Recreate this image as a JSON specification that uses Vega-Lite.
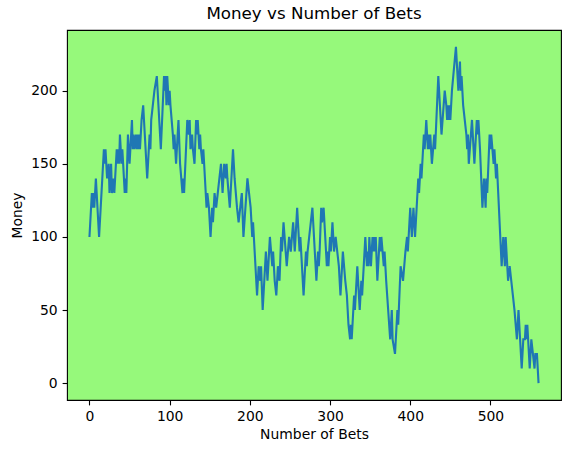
{
"$schema": "https://vega.github.io/schema/vega-lite/v6.json",
"width": 494, "height": 370,
"autosize": {"type": "none"},
"padding": {"left": 67, "top": 30, "right": 10, "bottom": 53},
"background": "white",
"title": {"text": "Money vs Number of Bets", "fontSize": 16.7, "font": "DejaVu Sans", "fontWeight": "normal", "color": "black", "offset": 7},
"config": {
  "view": {"fill": "#96f97b", "stroke": "black", "strokeWidth": 1.1},
  "axis": {"domain": false, "grid": false, "tickColor": "black", "tickSize": 4.9, "tickWidth": 1.1, "labelFont": "DejaVu Sans", "labelFontSize": 13.9, "labelColor": "black", "labelPadding": 4.9, "titleFont": "DejaVu Sans", "titleFontSize": 13.9, "titleFontWeight": "normal", "titleColor": "black"}
},
"data": {"values": [
{"bets":0,"money":100},{"bets":3,"money":130},{"bets":4,"money":120},{"bets":5,"money":130},{"bets":6,"money":120},{"bets":8,"money":140},{"bets":12,"money":100},{"bets":18,"money":160},{"bets":19,"money":150},{"bets":20,"money":160},{"bets":22,"money":140},{"bets":24,"money":150},{"bets":25,"money":130},{"bets":27,"money":150},{"bets":28,"money":130},{"bets":30,"money":140},{"bets":31,"money":130},{"bets":34,"money":160},{"bets":35,"money":150},{"bets":36,"money":160},{"bets":37,"money":150},{"bets":38,"money":170},{"bets":40,"money":150},{"bets":41,"money":160},{"bets":42,"money":150},{"bets":44,"money":130},{"bets":45,"money":140},{"bets":46,"money":130},{"bets":48,"money":170},{"bets":50,"money":150},{"bets":53,"money":180},{"bets":54,"money":160},{"bets":55,"money":170},{"bets":56,"money":160},{"bets":58,"money":170},{"bets":59,"money":160},{"bets":60,"money":170},{"bets":61,"money":160},{"bets":62,"money":170},{"bets":63,"money":160},{"bets":65,"money":180},{"bets":67,"money":190},{"bets":69,"money":170},{"bets":72,"money":140},{"bets":75,"money":170},{"bets":76,"money":160},{"bets":77,"money":180},{"bets":79,"money":190},{"bets":81,"money":200},{"bets":84,"money":210},{"bets":86,"money":190},{"bets":89,"money":160},{"bets":93,"money":210},{"bets":94,"money":200},{"bets":95,"money":210},{"bets":96,"money":190},{"bets":97,"money":210},{"bets":98,"money":200},{"bets":99,"money":190},{"bets":100,"money":200},{"bets":101,"money":190},{"bets":104,"money":170},{"bets":105,"money":160},{"bets":106,"money":170},{"bets":108,"money":150},{"bets":110,"money":170},{"bets":111,"money":180},{"bets":113,"money":150},{"bets":116,"money":130},{"bets":117,"money":140},{"bets":118,"money":130},{"bets":122,"money":180},{"bets":124,"money":170},{"bets":125,"money":180},{"bets":126,"money":160},{"bets":128,"money":170},{"bets":129,"money":160},{"bets":131,"money":150},{"bets":133,"money":180},{"bets":134,"money":170},{"bets":135,"money":180},{"bets":137,"money":160},{"bets":138,"money":170},{"bets":139,"money":160},{"bets":141,"money":150},{"bets":142,"money":160},{"bets":143,"money":150},{"bets":146,"money":120},{"bets":147,"money":130},{"bets":149,"money":120},{"bets":151,"money":100},{"bets":153,"money":120},{"bets":154,"money":110},{"bets":156,"money":130},{"bets":158,"money":120},{"bets":160,"money":130},{"bets":164,"money":150},{"bets":166,"money":130},{"bets":168,"money":150},{"bets":170,"money":140},{"bets":171,"money":150},{"bets":172,"money":140},{"bets":175,"money":120},{"bets":179,"money":160},{"bets":181,"money":140},{"bets":184,"money":120},{"bets":186,"money":110},{"bets":188,"money":120},{"bets":190,"money":130},{"bets":192,"money":100},{"bets":197,"money":140},{"bets":199,"money":130},{"bets":201,"money":120},{"bets":203,"money":100},{"bets":204,"money":110},{"bets":205,"money":100},{"bets":209,"money":60},{"bets":211,"money":80},{"bets":213,"money":70},{"bets":214,"money":80},{"bets":216,"money":50},{"bets":220,"money":90},{"bets":222,"money":70},{"bets":225,"money":100},{"bets":228,"money":80},{"bets":229,"money":90},{"bets":231,"money":70},{"bets":233,"money":60},{"bets":235,"money":80},{"bets":237,"money":70},{"bets":239,"money":100},{"bets":240,"money":90},{"bets":242,"money":110},{"bets":246,"money":80},{"bets":249,"money":100},{"bets":251,"money":90},{"bets":254,"money":110},{"bets":256,"money":90},{"bets":259,"money":120},{"bets":261,"money":100},{"bets":262,"money":90},{"bets":263,"money":100},{"bets":267,"money":60},{"bets":270,"money":90},{"bets":271,"money":80},{"bets":272,"money":90},{"bets":278,"money":120},{"bets":283,"money":70},{"bets":285,"money":90},{"bets":286,"money":80},{"bets":287,"money":90},{"bets":289,"money":120},{"bets":290,"money":110},{"bets":292,"money":120},{"bets":296,"money":80},{"bets":297,"money":90},{"bets":298,"money":80},{"bets":300,"money":100},{"bets":301,"money":90},{"bets":303,"money":110},{"bets":305,"money":90},{"bets":307,"money":100},{"bets":309,"money":90},{"bets":311,"money":80},{"bets":313,"money":60},{"bets":316,"money":90},{"bets":319,"money":70},{"bets":321,"money":60},{"bets":323,"money":40},{"bets":325,"money":30},{"bets":326,"money":40},{"bets":327,"money":30},{"bets":330,"money":60},{"bets":331,"money":50},{"bets":334,"money":80},{"bets":337,"money":50},{"bets":339,"money":70},{"bets":340,"money":60},{"bets":342,"money":80},{"bets":344,"money":100},{"bets":346,"money":80},{"bets":347,"money":90},{"bets":348,"money":80},{"bets":349,"money":100},{"bets":351,"money":80},{"bets":353,"money":100},{"bets":354,"money":90},{"bets":355,"money":100},{"bets":356,"money":90},{"bets":357,"money":100},{"bets":359,"money":70},{"bets":362,"money":100},{"bets":363,"money":90},{"bets":364,"money":100},{"bets":367,"money":80},{"bets":368,"money":90},{"bets":370,"money":70},{"bets":375,"money":30},{"bets":377,"money":50},{"bets":378,"money":30},{"bets":381,"money":20},{"bets":384,"money":50},{"bets":385,"money":40},{"bets":388,"money":80},{"bets":391,"money":70},{"bets":394,"money":90},{"bets":396,"money":100},{"bets":397,"money":90},{"bets":398,"money":100},{"bets":400,"money":120},{"bets":402,"money":100},{"bets":404,"money":120},{"bets":406,"money":100},{"bets":409,"money":130},{"bets":410,"money":140},{"bets":411,"money":130},{"bets":412,"money":140},{"bets":413,"money":150},{"bets":414,"money":140},{"bets":415,"money":150},{"bets":417,"money":170},{"bets":418,"money":160},{"bets":419,"money":170},{"bets":420,"money":180},{"bets":421,"money":170},{"bets":422,"money":160},{"bets":423,"money":170},{"bets":424,"money":160},{"bets":425,"money":170},{"bets":427,"money":150},{"bets":430,"money":170},{"bets":431,"money":160},{"bets":435,"money":210},{"bets":437,"money":190},{"bets":439,"money":170},{"bets":443,"money":200},{"bets":445,"money":190},{"bets":446,"money":180},{"bets":447,"money":190},{"bets":448,"money":180},{"bets":449,"money":190},{"bets":450,"money":180},{"bets":452,"money":200},{"bets":457,"money":230},{"bets":460,"money":200},{"bets":462,"money":220},{"bets":463,"money":200},{"bets":464,"money":210},{"bets":466,"money":190},{"bets":470,"money":170},{"bets":471,"money":160},{"bets":472,"money":170},{"bets":473,"money":150},{"bets":477,"money":180},{"bets":480,"money":150},{"bets":483,"money":180},{"bets":484,"money":170},{"bets":485,"money":180},{"bets":487,"money":160},{"bets":490,"money":120},{"bets":492,"money":140},{"bets":494,"money":120},{"bets":495,"money":140},{"bets":496,"money":130},{"bets":499,"money":170},{"bets":500,"money":160},{"bets":501,"money":170},{"bets":504,"money":150},{"bets":505,"money":160},{"bets":506,"money":150},{"bets":507,"money":140},{"bets":508,"money":150},{"bets":514,"money":80},{"bets":516,"money":100},{"bets":518,"money":80},{"bets":519,"money":100},{"bets":522,"money":70},{"bets":524,"money":80},{"bets":526,"money":70},{"bets":528,"money":60},{"bets":530,"money":50},{"bets":533,"money":30},{"bets":535,"money":50},{"bets":539,"money":10},{"bets":541,"money":30},{"bets":543,"money":30},{"bets":544,"money":40},{"bets":545,"money":30},{"bets":546,"money":40},{"bets":549,"money":10},{"bets":551,"money":30},{"bets":553,"money":20},{"bets":555,"money":10},{"bets":556,"money":20},{"bets":558,"money":20},{"bets":560,"money":0}
]},
"mark": {"type": "line", "color": "#1f77b4", "strokeWidth": 2.1, "clip": true},
"encoding": {
  "x": {"field": "bets", "type": "quantitative", "scale": {"domain": [-28, 588], "nice": false, "zero": false}, "axis": {"values": [0, 100, 200, 300, 400, 500], "title": "Number of Bets", "titlePadding": 4}},
  "y": {"field": "money", "type": "quantitative", "scale": {"domain": [-11.5, 241.5], "nice": false, "zero": false}, "axis": {"values": [0, 50, 100, 150, 200], "title": "Money", "titlePadding": 6}}
}
}
